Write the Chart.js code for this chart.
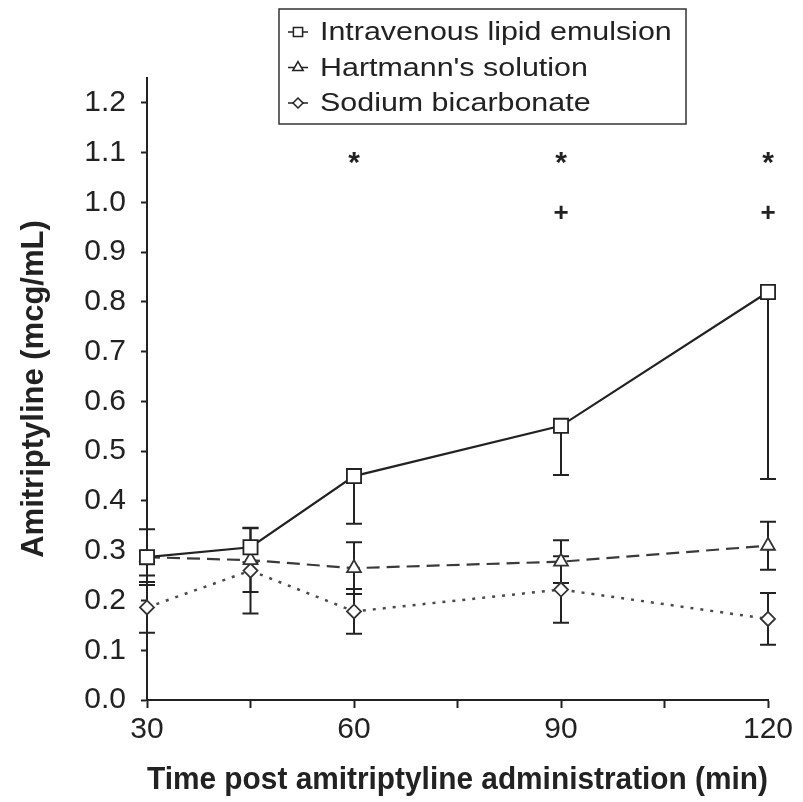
<!DOCTYPE html>
<html>
<head>
<meta charset="utf-8">
<script src="https://cdn.jsdelivr.net/npm/chart.js@4.4.1/dist/chart.umd.min.js"></script>
<style>
	html, body { margin: 0; padding: 0; background: #fff; }
</style>
</head>
<body>
<canvas id="myChart" width="803" height="802"></canvas>
<script>
// values
var times = [30, 45, 60, 90, 120];
var seriesNames = ["Intravenous lipid emulsion", "Hartmann's solution", "Sodium bicarbonate"];

var ile = [0.287, 0.307, 0.450, 0.551, 0.820];
var ileErr = [0.037, 0.030, 0.096, 0.099, 0.376];   // only the lower half is drawn

var hart = [0.287, 0.281, 0.265, 0.278, 0.310];
var hartErr = [0.056, 0.064, 0.052, 0.043, 0.048];

var soda = [0.186, 0.260, 0.178, 0.222, 0.163];
var sodaErr = [0.051, 0.086, 0.045, 0.067, 0.052];

// significance marks
var starTimes = [60, 90, 120];
var starLevel = 1.09;
var plusTimes = [90, 120];
var plusLevel = 0.98;

var yTicks = [0.0, 0.1, 0.2, 0.3, 0.4, 0.5, 0.6, 0.7, 0.8, 0.9, 1.0, 1.1, 1.2];
var xTicks = [30, 45, 60, 75, 90, 105, 120];
var xLabelEvery = 30;
var yMin = 0, yMax = 1.25, xMin = 30, xMax = 120;

var FONT = "'Liberation Sans', Arial, sans-serif";

function points(vals) {
	var out = [];
	for (var i = 0; i < times.length; i++) {
		out.push({ x: times[i], y: vals[i] });
	}
	return out;
}

var errorBars = {
	id: 'errorBars',
	beforeDatasetsDraw: function(chart) {
		var ctx = chart.ctx;
		var xs = chart.scales.x, ys = chart.scales.y;
		ctx.save();
		ctx.strokeStyle = '#222';
		ctx.lineWidth = 2;
		chart.data.datasets.forEach(function(ds) {
			for (var i = 0; i < ds.data.length; i++) {
				var px = xs.getPixelForValue(ds.data[i].x);
				var v = ds.data[i].y, e = ds.errors[i];
				var hi = ds.errDir === 'down' ? v : v + e;
				var y1 = ys.getPixelForValue(hi), y2 = ys.getPixelForValue(v - e);
				ctx.beginPath();
				ctx.moveTo(px, y1);
				ctx.lineTo(px, y2);
				ctx.moveTo(px - 8, y2);
				ctx.lineTo(px + 8, y2);
				if (ds.errDir !== 'down') {
					ctx.moveTo(px - 8, y1);
					ctx.lineTo(px + 8, y1);
				}
				ctx.stroke();
			}
		});
		ctx.restore();
	}
};

var marks = {
	id: 'marks',
	afterDatasetsDraw: function(chart) {
		var ctx = chart.ctx;
		var xs = chart.scales.x, ys = chart.scales.y;
		ctx.save();
		ctx.fillStyle = '#222';
		ctx.textAlign = 'center';
		ctx.textBaseline = 'alphabetic';
		function put(txt, t, lvl) {
			var m = ctx.measureText(txt);
			var py = ys.getPixelForValue(lvl);
			ctx.fillText(txt, xs.getPixelForValue(t), py + (m.actualBoundingBoxAscent - m.actualBoundingBoxDescent) / 2);
		}
		ctx.font = 'bold 30px ' + FONT;
		starTimes.forEach(function(t) { put('*', t, starLevel); });
		ctx.font = 'bold 26px ' + FONT;
		plusTimes.forEach(function(t) { put('+', t, plusLevel); });
		ctx.restore();
	}
};

var boxLegend = {
	id: 'boxLegend',
	afterDraw: function(chart) {
		var ctx = chart.ctx;
		var left = 279, top = 9, w = 407, h = 115;
		ctx.save();
		ctx.fillStyle = '#fff';
		ctx.fillRect(left, top, w, h);
		ctx.strokeStyle = '#333';
		ctx.lineWidth = 1.5;
		ctx.strokeRect(left, top, w, h);
		chart.data.datasets.forEach(function(ds, i) {
			var cy = 32 + i * 35.5;
			ctx.strokeStyle = '#222';
			ctx.lineWidth = 1.5;
			ctx.setLineDash([]);
			ctx.beginPath();
			ctx.moveTo(288, cy);
			ctx.lineTo(308, cy);
			ctx.stroke();
			ctx.fillStyle = '#fff';
			Chart.helpers.drawPoint(ctx, {
				pointStyle: ds.pointStyle,
				rotation: 0,
				radius: ds.legendRadius,
				borderWidth: 1.5
			}, 298, cy);
			// the figure's legend lettering is wider than it is tall
			ctx.save();
			ctx.translate(320, cy + 1);
			ctx.scale(1.17, 1);
			ctx.fillStyle = '#222';
			ctx.font = '26px ' + FONT;
			ctx.textAlign = 'left';
			ctx.textBaseline = 'middle';
			ctx.fillText(ds.label, 0, 0);
			ctx.restore();
		});
		ctx.restore();
	}
};

var ctx = document.getElementById('myChart');

var config = {
	type: 'line',
	data: {
		datasets: [
			{
				label: seriesNames[0],
				data: points(ile),
				errors: ileErr,
				errDir: 'down',
				clip: false,
				borderColor: '#222',
				borderWidth: 2.2,
				pointStyle: 'rect',
				pointRadius: 10,
				legendRadius: 6.5,
				pointBackgroundColor: '#fff',
				pointBorderColor: '#222',
				pointBorderWidth: 1.8
			},
			{
				label: seriesNames[1],
				data: points(hart),
				errors: hartErr,
				errDir: 'both',
				clip: false,
				borderColor: '#3a3a3a',
				borderWidth: 2.2,
				borderDash: [13, 7],
				pointStyle: 'triangle',
				pointRadius: 8,
				legendRadius: 6,
				pointBackgroundColor: '#fff',
				pointBorderColor: '#333',
				pointBorderWidth: 1.8
			},
			{
				label: seriesNames[2],
				data: points(soda),
				errors: sodaErr,
				errDir: 'both',
				clip: false,
				borderColor: '#4a4a4a',
				borderWidth: 2.5,
				borderDash: [3, 7],
				pointStyle: 'rectRot',
				pointRadius: 7,
				legendRadius: 5,
				pointBackgroundColor: '#fff',
				pointBorderColor: '#333',
				pointBorderWidth: 1.8
			}
		]
	},
	options: {
		responsive: false,
		animation: false,
		layout: { padding: { left: 0, right: 35, top: 78, bottom: 0 } },
		plugins: {
			legend: { display: false },
			tooltip: { enabled: false }
		},
		scales: {
			x: {
				type: 'linear',
				min: xMin,
				max: xMax,
				afterFit: function(s) { s.height = 102; },
				afterBuildTicks: function(s) {
					s.ticks = xTicks.map(function(v) { return { value: v }; });
				},
				border: { display: true, color: '#222', width: 2 },
				grid: { drawOnChartArea: false, drawTicks: true, tickLength: 8, color: '#222', tickWidth: 2 },
				ticks: {
					padding: 4,
					color: '#222',
					font: { family: FONT, size: 30 },
					maxRotation: 0,
					autoSkip: false,
					callback: function(v) { return v % xLabelEvery === 0 ? v : ''; }
				},
				title: {
					display: true,
					text: 'Time post amitriptyline administration (min)',
					color: '#222',
					font: { family: FONT, size: 31, weight: 'bold' },
					padding: { top: 0, bottom: 3 }
				}
			},
			y: {
				min: yMin,
				max: yMax,
				afterFit: function(s) { s.width = 147; },
				afterBuildTicks: function(s) {
					s.ticks = yTicks.map(function(v) { return { value: v }; });
				},
				border: { display: true, color: '#222', width: 2 },
				grid: { drawOnChartArea: false, drawTicks: true, tickLength: 6, color: '#222', tickWidth: 2 },
				ticks: {
					padding: 15,
					color: '#222',
					font: { family: FONT, size: 30 },
					autoSkip: false,
					callback: function(v) { return v.toFixed(1); }
				},
				title: {
					display: true,
					text: 'Amitriptyline (mcg/mL)',
					color: '#222',
					font: { family: FONT, size: 31, weight: 'bold' },
					padding: { top: 16, bottom: 0 }
				}
			}
		}
	},
	plugins: [errorBars, marks, boxLegend]
};

var chart1 = new Chart(ctx, config);
</script>
</body>
</html>
